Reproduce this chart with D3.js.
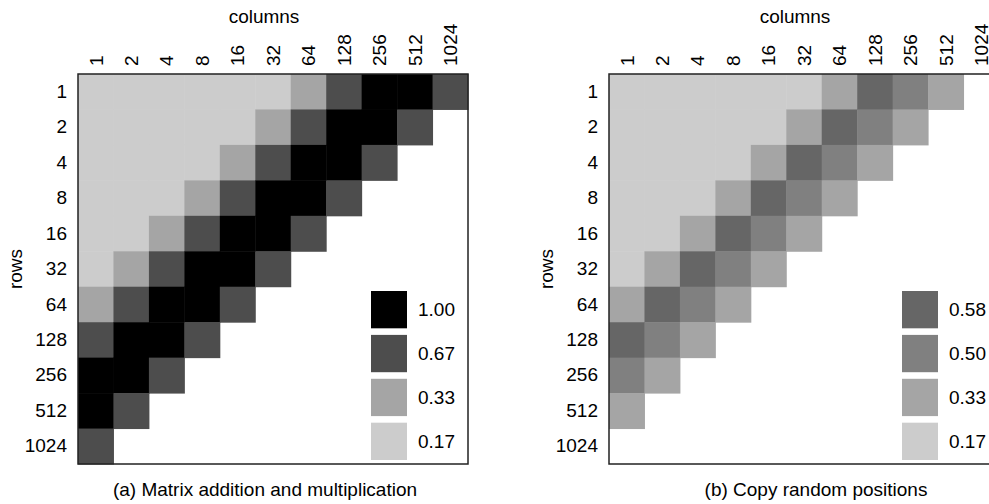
<!DOCTYPE html>
<html>
<head>
<meta charset="utf-8">
<script src="https://cdn.jsdelivr.net/npm/d3@7"></script>
<style>
  body { margin: 0; background: #fff; }
  svg { font-family: "Liberation Sans", Arial, sans-serif; }
</style>
</head>
<body>
<svg id="chart" width="989" height="504"></svg>
<script>
// sizes of rows / columns (same on both axes)
var sizes = ["1", "2", "4", "8", "16", "32", "64", "128", "256", "512", "1024"];

// (a) matrix addition and multiplication, null = no cell
var values_a = [
  [0.17, 0.17, 0.17, 0.17, 0.17, 0.17, 0.33, 0.67, 1.00, 1.00, 0.67],
  [0.17, 0.17, 0.17, 0.17, 0.17, 0.33, 0.67, 1.00, 1.00, 0.67, null],
  [0.17, 0.17, 0.17, 0.17, 0.33, 0.67, 1.00, 1.00, 0.67, null, null],
  [0.17, 0.17, 0.17, 0.33, 0.67, 1.00, 1.00, 0.67, null, null, null],
  [0.17, 0.17, 0.33, 0.67, 1.00, 1.00, 0.67, null, null, null, null],
  [0.17, 0.33, 0.67, 1.00, 1.00, 0.67, null, null, null, null, null],
  [0.33, 0.67, 1.00, 1.00, 0.67, null, null, null, null, null, null],
  [0.67, 1.00, 1.00, 0.67, null, null, null, null, null, null, null],
  [1.00, 1.00, 0.67, null, null, null, null, null, null, null, null],
  [1.00, 0.67, null, null, null, null, null, null, null, null, null],
  [0.67, null, null, null, null, null, null, null, null, null, null]
];
var legend_a = [1.00, 0.67, 0.33, 0.17];

// (b) copy random positions
var values_b = [
  [0.17, 0.17, 0.17, 0.17, 0.17, 0.17, 0.33, 0.58, 0.50, 0.33, null],
  [0.17, 0.17, 0.17, 0.17, 0.17, 0.33, 0.58, 0.50, 0.33, null, null],
  [0.17, 0.17, 0.17, 0.17, 0.33, 0.58, 0.50, 0.33, null, null, null],
  [0.17, 0.17, 0.17, 0.33, 0.58, 0.50, 0.33, null, null, null, null],
  [0.17, 0.17, 0.33, 0.58, 0.50, 0.33, null, null, null, null, null],
  [0.17, 0.33, 0.58, 0.50, 0.33, null, null, null, null, null, null],
  [0.33, 0.58, 0.50, 0.33, null, null, null, null, null, null, null],
  [0.58, 0.50, 0.33, null, null, null, null, null, null, null, null],
  [0.50, 0.33, null, null, null, null, null, null, null, null, null],
  [0.33, null, null, null, null, null, null, null, null, null, null],
  [null, null, null, null, null, null, null, null, null, null, null]
];
var legend_b = [0.58, 0.50, 0.33, 0.17];

var captions = ["(a) Matrix addition and multiplication", "(b) Copy random positions"];

// grey levels used in the figure
var grey = d3.scaleOrdinal()
  .domain([0.17, 0.33, 0.50, 0.58, 0.67, 1.00])
  .range(["#cccccc", "#a5a5a5", "#808080", "#666666", "#4d4d4d", "#000000"]);

var svg = d3.select("#chart");
var side = 390;

var panels = [
  {x0: 78, values: values_a, legend: legend_a, caption: captions[0], capx: 187},
  {x0: 609, values: values_b, legend: legend_b, caption: captions[1], capx: 207}
];

var x = d3.scaleBand().domain(sizes).range([0, side]);
var y = d3.scaleBand().domain(sizes).range([0, side]);
var ly = d3.scaleBand().domain(d3.range(4)).range([0, 169]).paddingInner(0.15);

panels.forEach(function(p) {
  var g = svg.append("g").attr("transform", "translate(" + p.x0 + ",74)");

  var cells = [];
  p.values.forEach(function(row, i) {
    row.forEach(function(v, j) {
      if (v !== null) cells.push({r: sizes[i], c: sizes[j], v: v});
    });
  });

  g.selectAll("rect.cell").data(cells).enter().append("rect")
    .attr("class", "cell")
    .attr("x", function(d) { return x(d.c); })
    .attr("y", function(d) { return y(d.r); })
    .attr("width", x.bandwidth() + 0.5)
    .attr("height", y.bandwidth() + 0.5)
    .attr("fill", function(d) { return grey(d.v); });

  // legend
  var lg = g.append("g").attr("transform", "translate(293,217)");
  lg.selectAll("rect").data(p.legend).enter().append("rect")
    .attr("x", 0)
    .attr("y", function(d, i) { return ly(i); })
    .attr("width", 36)
    .attr("height", ly.bandwidth())
    .attr("fill", function(d) { return grey(d); });
  lg.selectAll("text").data(p.legend).enter().append("text")
    .attr("x", 47)
    .attr("y", function(d, i) { return ly(i) + ly.bandwidth() / 2; })
    .attr("dy", "0.36em")
    .attr("font-size", 19)
    .text(function(d) { return d.toFixed(2); });

  // frame
  g.append("rect")
    .attr("width", side).attr("height", side)
    .attr("fill", "none").attr("stroke", "#222").attr("stroke-width", 1.5);

  // column axis
  var xa = g.append("g").call(d3.axisTop(x).tickSize(0).tickPadding(0));
  xa.select(".domain").remove();
  xa.selectAll("text")
    .attr("font-size", 19)
    .attr("font-family", "Liberation Sans, Arial, sans-serif")
    .attr("fill", "#000")
    .attr("text-anchor", "start")
    .attr("transform", "rotate(-90)")
    .attr("x", 8).attr("y", 0).attr("dy", "0.36em");

  // row axis
  var ya = g.append("g").call(d3.axisLeft(y).tickSize(0).tickPadding(11));
  ya.select(".domain").remove();
  ya.selectAll("text")
    .attr("font-size", 19)
    .attr("font-family", "Liberation Sans, Arial, sans-serif")
    .attr("fill", "#000");

  g.append("text")
    .attr("x", 186).attr("y", -51)
    .attr("text-anchor", "middle")
    .attr("font-size", 19)
    .text("columns");

  g.append("text")
    .attr("transform", "translate(-56,195) rotate(-90)")
    .attr("text-anchor", "middle")
    .attr("font-size", 19)
    .text("rows");

  g.append("text")
    .attr("x", p.capx).attr("y", 422)
    .attr("text-anchor", "middle")
    .attr("font-size", 19)
    .text(p.caption);
});
</script>
</body>
</html>
